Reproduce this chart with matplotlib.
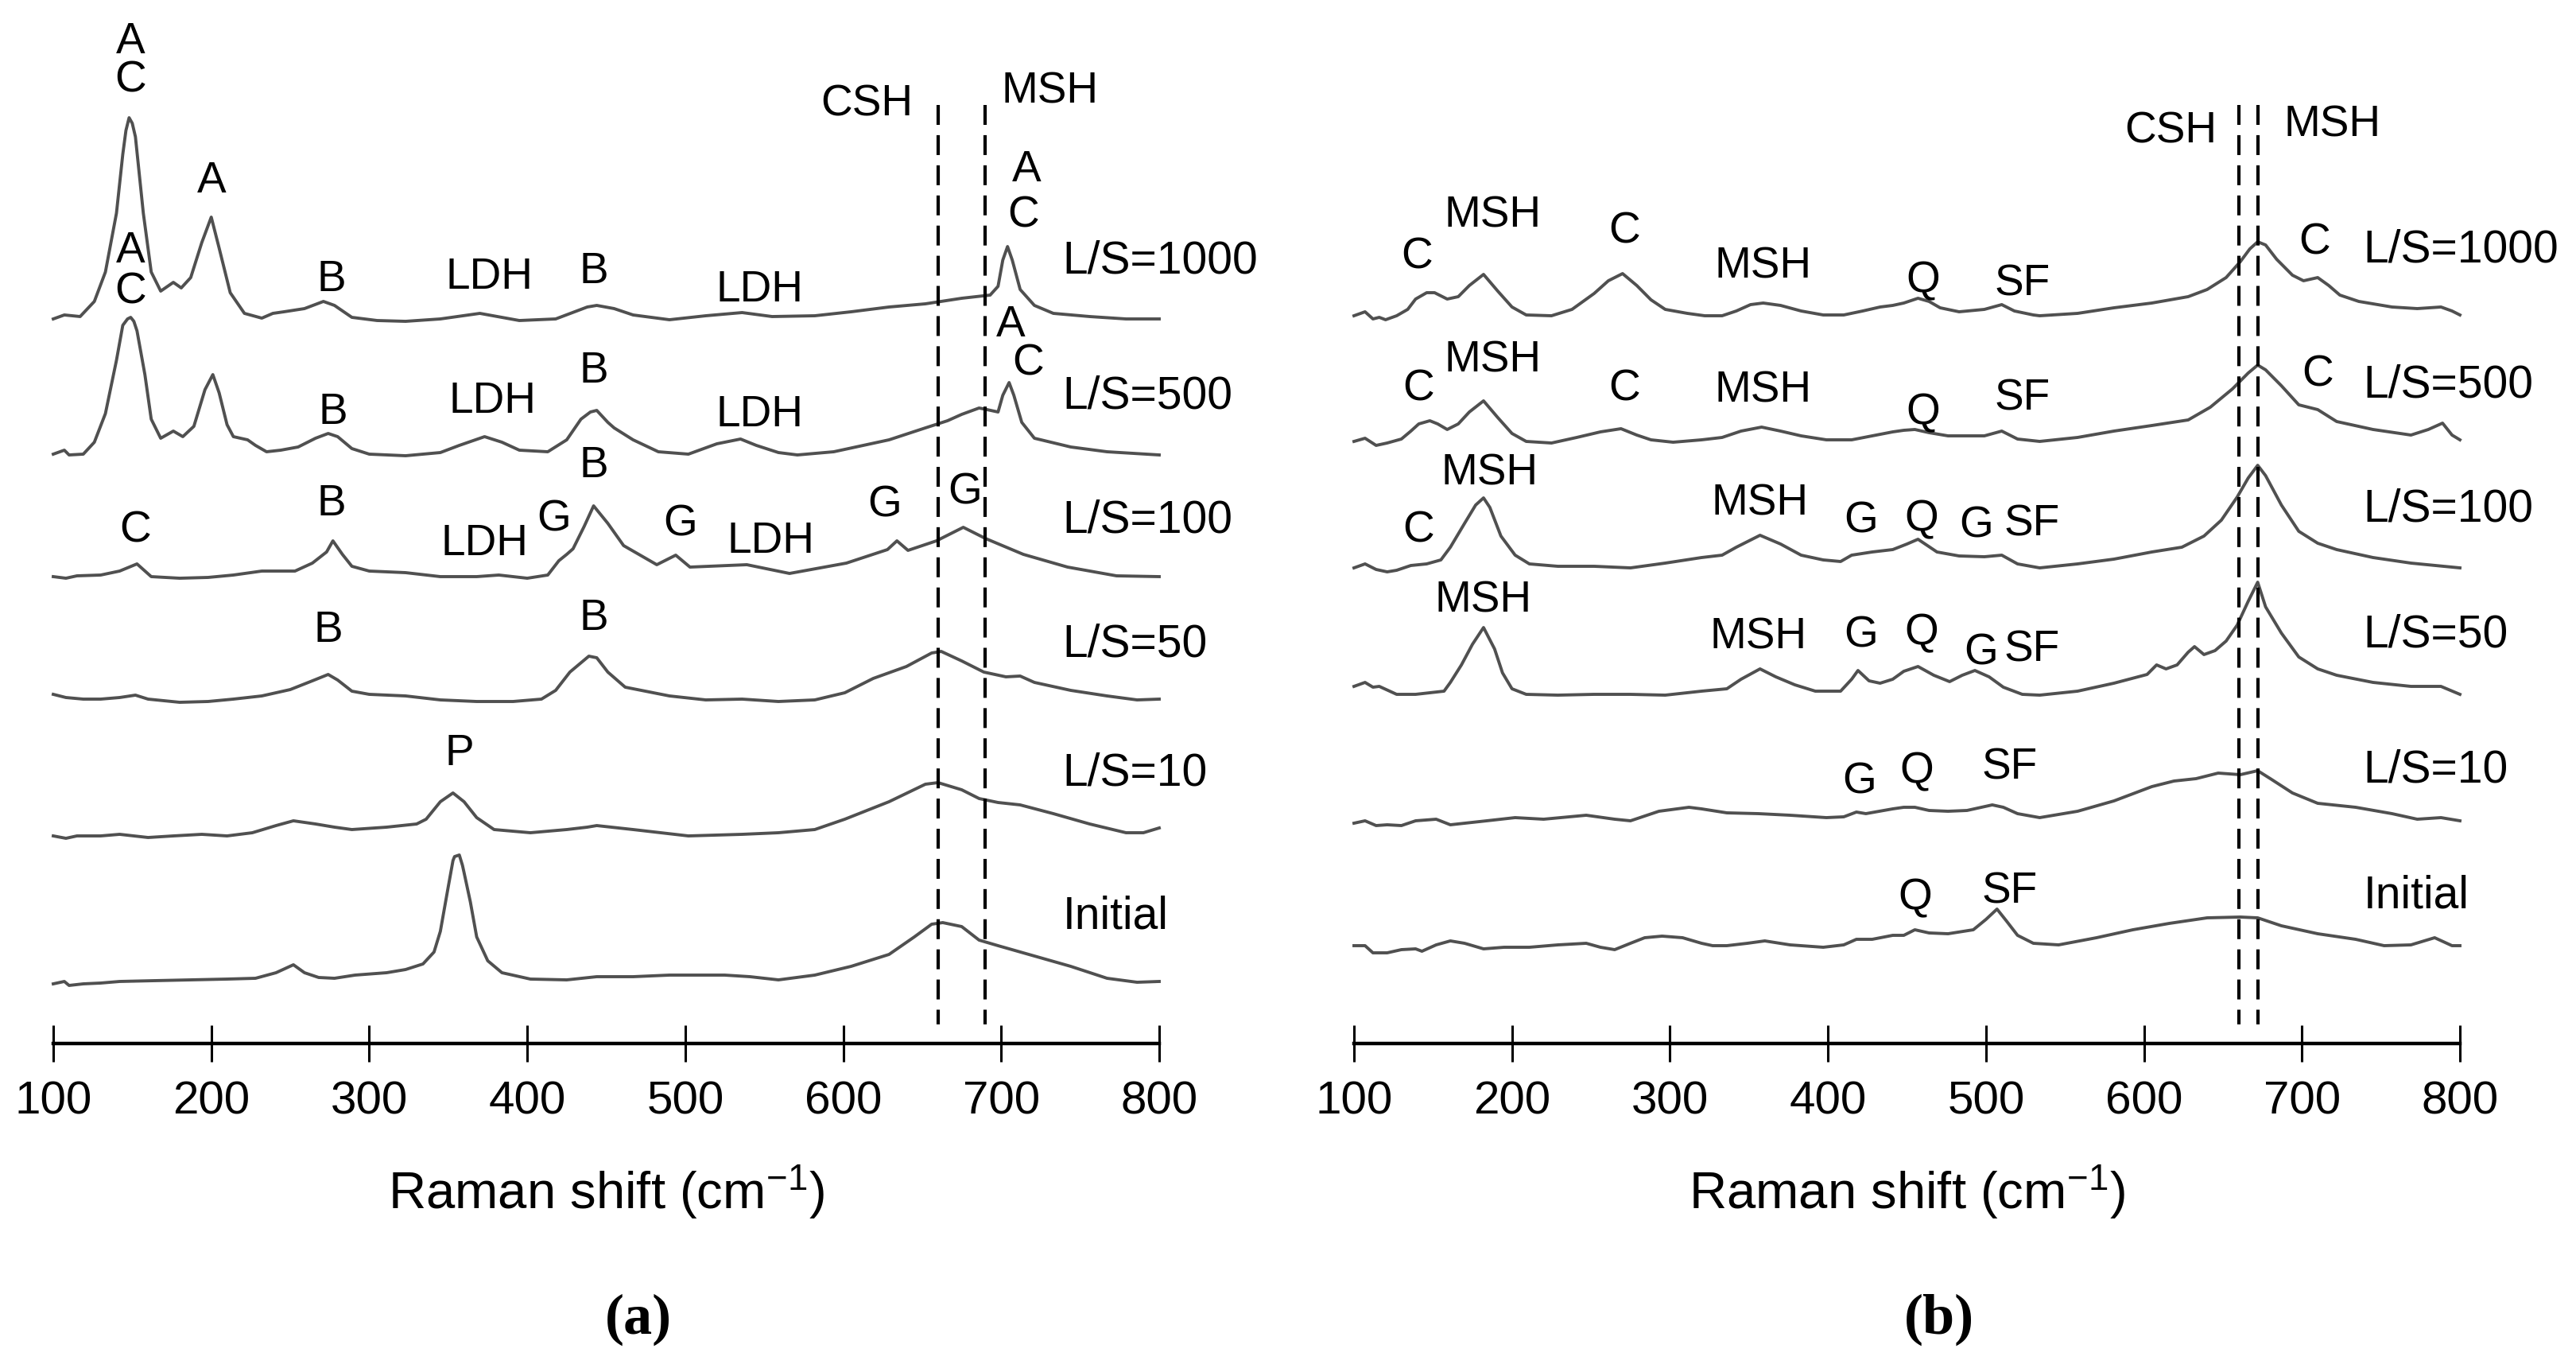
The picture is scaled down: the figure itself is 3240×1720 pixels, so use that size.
import numpy as np
import matplotlib
matplotlib.use('Agg')
import matplotlib.pyplot as plt

plt.rcParams['font.family'] = ['Liberation Sans', 'DejaVu Sans']
plt.rcParams['mathtext.fontset'] = 'custom'
plt.rcParams['mathtext.rm'] = 'Liberation Sans'
plt.rcParams['mathtext.it'] = 'Liberation Sans:italic'
plt.rcParams['mathtext.default'] = 'regular'

# ---- data: Raman shift (cm-1) and intensity (a.u.) ----
samples = ['L/S=1000', 'L/S=500', 'L/S=100', 'L/S=50', 'L/S=10', 'Initial']

# panel (a)
a1000_x = [100, 107, 117, 126, 133, 140, 144, 146, 148, 150, 152, 157, 162, 168, 176, 181, 187, 194, 200, 205,
           212, 221, 232, 239, 246, 259, 271, 278, 289, 305, 323, 345, 370, 395, 418, 438, 444, 455, 467, 490,
           513, 536, 555, 582, 605, 629, 652, 675, 693, 698, 701, 704, 707, 712, 721, 733, 756, 779, 800]
a1000_y = [3, 8, 6, 25, 62, 136, 210, 240, 256, 249, 232, 136, 62, 38, 49, 42, 55, 99, 131, 92,
           36, 10, 4, 10, 12, 16, 25, 20, 5, 1, 0, 3, 10, 1, 3, 18, 20, 16, 8, 2,
           7, 11, 6, 7, 12, 18, 22, 29, 33, 44, 77, 94, 77, 40, 20, 10, 6, 3, 3]
a500_x = [100, 107, 110, 119, 126, 133, 140, 144, 147, 149, 151, 153, 158, 162, 168, 176, 182, 189, 196, 201,
          205, 210, 214, 223, 228, 235, 244, 255, 266, 274, 280, 289, 300, 323, 345, 357, 373, 384, 395, 413,
          425, 434, 440, 444, 451, 455, 467, 483, 502, 520, 535, 545, 559, 571, 594, 629, 652, 666, 675, 686,
          691, 698, 701, 705, 708, 713, 721, 744, 767, 800]
a500_y = [2, 7, 1, 2, 17, 53, 120, 164, 172, 174, 169, 157, 102, 46, 22, 31, 24, 37, 83, 102,
          79, 39, 24, 20, 13, 5, 7, 11, 22, 28, 24, 9, 2, 0, 4, 13, 24, 17, 7, 5,
          20, 46, 55, 57, 42, 35, 20, 5, 2, 15, 21, 13, 4, 1, 5, 20, 35, 44, 52, 60,
          58, 55, 76, 92, 76, 42, 22, 11, 5, 1]
a100_x = [100, 108, 115, 130, 142, 153, 162, 180, 198, 214, 232, 253, 264, 273, 277, 283, 289, 300, 323, 345,
          368, 382, 400, 413, 420, 425, 429, 436, 442, 451, 461, 482, 494, 503, 539, 566, 602, 628, 634, 641,
          659, 676, 690, 714, 742, 773, 800]
a100_y = [2, 0, 3, 4, 9, 18, 2, 0, 1, 4, 9, 9, 19, 33, 47, 30, 15, 9, 7, 2,
          2, 4, 0, 4, 22, 30, 37, 65, 91, 69, 41, 17, 29, 14, 17, 6, 19, 36, 47, 35,
          47, 64, 50, 30, 14, 3, 2]
a50_x = [100, 108, 119, 130, 142, 152, 160, 180, 198, 214, 232, 250, 264, 274, 280, 289, 300, 323, 345, 368,
         391, 409, 418, 427, 439, 444, 451, 462, 490, 513, 536, 559, 582, 601, 619, 640, 656, 662, 675, 689,
         703, 712, 721, 744, 767, 786, 800]
a50_y = [10, 6, 4, 4, 6, 9, 4, 0, 1, 4, 8, 16, 27, 35, 28, 14, 10, 8, 3, 1,
         1, 4, 15, 38, 58, 56, 38, 19, 8, 3, 4, 1, 3, 12, 30, 45, 62, 64, 52, 38,
         32, 33, 25, 15, 8, 3, 4]
a10_x = [100, 108, 115, 130, 142, 160, 176, 194, 210, 226, 241, 252, 266, 278, 289, 311, 330, 336, 345, 353,
         360, 368, 379, 402, 425, 438, 444, 467, 502, 536, 559, 582, 601, 629, 652, 660, 675, 686, 698, 712,
         733, 756, 779, 790, 800]
a10_y = [3, 0, 3, 3, 5, 1, 3, 5, 3, 7, 16, 22, 18, 14, 11, 14, 18, 24, 46, 57,
         46, 26, 11, 7, 11, 14, 16, 11, 3, 5, 7, 11, 24, 46, 68, 70, 61, 50, 45, 42,
         31, 18, 7, 7, 13]
a0_x = [100, 107, 110, 119, 130, 142, 164, 187, 210, 228, 241, 252, 259, 268, 278, 291, 311, 323, 334, 341,
        345, 350, 353, 354, 357, 359, 360, 364, 368, 375, 384, 402, 425, 444, 467, 490, 525, 541, 559, 582,
        605, 629, 645, 656, 663, 675, 686, 698, 721, 744, 767, 786, 800]
a0_y = [3, 6, 1, 3, 4, 6, 7, 8, 9, 10, 17, 27, 17, 11, 10, 14, 17, 21, 28, 43,
        69, 125, 158, 163, 165, 152, 143, 106, 62, 32, 17, 9, 8, 12, 12, 14, 14, 12, 8, 14,
        25, 40, 62, 78, 80, 75, 58, 51, 38, 25, 10, 5, 6]

# panel (b)
b1000_x = [100, 107, 112, 116, 120, 127, 134, 139, 146, 151, 159, 166, 173, 182, 191, 200, 209, 225, 238, 252,
           261, 270, 279, 288, 297, 311, 322, 333, 342, 351, 359, 370, 383, 397, 410, 422, 433, 441, 448, 457,
           464, 471, 483, 499, 510, 518, 530, 534, 558, 581, 605, 628, 640, 652, 661, 667, 672, 677, 684, 694,
           701, 710, 717, 724, 736, 757, 773, 788, 795, 800]
b1000_y = [6, 11, 2, 4, 1, 6, 14, 27, 35, 35, 27, 30, 44, 58, 37, 17, 7, 6, 14, 34,
           50, 59, 44, 26, 14, 9, 6, 6, 12, 20, 22, 19, 12, 7, 7, 12, 17, 19, 22, 28,
           24, 16, 11, 14, 20, 12, 7, 6, 9, 16, 22, 30, 39, 54, 74, 90, 99, 95, 77, 57,
           50, 54, 44, 32, 24, 17, 15, 17, 12, 7]
b500_x = [100, 107, 114, 121, 130, 136, 141, 148, 153, 159, 166, 173, 182, 191, 200, 209, 225, 241, 256, 269,
          279, 288, 302, 320, 333, 345, 358, 370, 383, 399, 415, 428, 441, 448, 455, 464, 476, 499, 510, 520,
          534, 558, 581, 605, 628, 642, 656, 666, 672, 677, 687, 698, 710, 722, 745, 769, 780, 789, 795, 800]
b500_y = [5, 9, 0, 3, 8, 18, 27, 31, 27, 20, 27, 42, 56, 35, 15, 5, 3, 10, 17, 21,
          13, 7, 4, 7, 10, 18, 23, 18, 12, 7, 7, 12, 17, 19, 20, 16, 12, 12, 18, 8,
          5, 10, 18, 25, 32, 48, 71, 91, 101, 95, 75, 51, 45, 30, 20, 13, 20, 28, 13, 7]
b100_x = [100, 107, 114, 121, 127, 136, 146, 155, 161, 170, 177, 182, 186, 193, 202, 211, 229, 252, 275, 297,
          320, 333, 342, 357, 370, 383, 397, 408, 415, 428, 441, 450, 457, 469, 483, 499, 510, 520, 534, 558,
          581, 605, 624, 638, 649, 659, 666, 672, 677, 687, 698, 710, 722, 745, 769, 800]
b100_y = [5, 10, 3, 0, 2, 8, 10, 15, 31, 61, 84, 93, 81, 45, 21, 10, 7, 7, 5, 11,
          18, 21, 31, 46, 35, 21, 15, 13, 21, 25, 28, 35, 41, 25, 20, 19, 21, 10, 5, 10,
          16, 25, 31, 45, 65, 94, 118, 134, 121, 84, 51, 36, 28, 18, 11, 5]
b50_x = [100, 107, 112, 116, 127, 139, 157, 161, 168, 175, 182, 189, 194, 200, 209, 229, 252, 275, 297, 320,
         336, 345, 357, 367, 379, 392, 408, 415, 419, 426, 433, 441, 448, 457, 467, 477, 485, 493, 502, 511,
         523, 534, 558, 581, 602, 608, 614, 621, 628, 632, 638, 645, 652, 659, 666, 672, 677, 687, 698, 710,
         722, 745, 769, 788, 800]
b50_y = [12, 17, 11, 12, 2, 2, 6, 17, 39, 65, 86, 59, 29, 9, 2, 1, 2, 2, 1, 6,
         9, 21, 34, 24, 14, 6, 6, 21, 32, 19, 16, 21, 31, 37, 26, 18, 26, 32, 24, 11,
         2, 1, 6, 16, 27, 39, 34, 39, 55, 62, 52, 57, 69, 89, 119, 143, 112, 79, 49, 34,
         26, 17, 12, 12, 2]
b10_x = [100, 107, 114, 121, 130, 139, 152, 161, 184, 202, 220, 247, 265, 275, 281, 293, 312, 320, 336, 356,
         376, 399, 410, 418, 424, 441, 448, 455, 464, 476, 488, 504, 511, 520, 534, 558, 581, 605, 619, 633,
         647, 661, 672, 680, 694, 710, 734, 757, 773, 788, 800]
b10_y = [4, 7, 1, 2, 1, 7, 9, 2, 7, 11, 9, 14, 9, 7, 11, 19, 24, 22, 17, 16,
         14, 11, 12, 18, 16, 22, 24, 24, 20, 19, 20, 27, 24, 16, 11, 19, 32, 50, 57, 60,
         67, 65, 70, 60, 42, 29, 24, 16, 9, 11, 7]
b0_x = [100, 107, 112, 121, 130, 139, 143, 152, 161, 170, 182, 195, 211, 229, 247, 256, 265, 275, 284, 295,
        308, 320, 327, 336, 349, 360, 376, 397, 410, 418, 428, 441, 448, 455, 464, 476, 492, 500, 507, 513,
        520, 530, 546, 570, 593, 616, 640, 661, 672, 687, 710, 734, 752, 769, 784, 795, 800]
b0_y = [9, 9, 0, 0, 4, 5, 2, 10, 15, 12, 5, 7, 7, 10, 12, 7, 4, 12, 19, 21,
        19, 12, 9, 9, 12, 15, 10, 7, 10, 17, 17, 22, 22, 29, 25, 24, 29, 42, 55, 40,
        22, 12, 10, 19, 29, 37, 44, 45, 44, 34, 24, 17, 9, 10, 19, 9, 9]

# reference bands (CSH, MSH) in cm-1
bands_a = [660, 690]
bands_b = [660, 672]

# stacking offsets of the spectra (a.u.)
offsets_a = [908, 739, 585, 429, 258, 72]
offsets_b = [909, 752, 593, 437, 273, 114]

spectra_a = [(a1000_x, a1000_y), (a500_x, a500_y), (a100_x, a100_y),
             (a50_x, a50_y), (a10_x, a10_y), (a0_x, a0_y)]
spectra_b = [(b1000_x, b1000_y), (b500_x, b500_y), (b100_x, b100_y),
             (b50_x, b50_y), (b10_x, b10_y), (b0_x, b0_y)]

# peak labels: text, shift, height
peaks_a = [('A', 149, 1245), ('C', 149, 1196), ('A', 200, 1070),
           ('A', 149, 982), ('C', 149, 930), ('B', 276, 946), ('LDH', 376, 949), ('B', 442, 956),
           ('LDH', 547, 933), ('CSH', 615, 1167), ('MSH', 731, 1182), ('A', 716, 1084), ('C', 714, 1026),
           ('B', 277, 779), ('LDH', 378, 793), ('B', 442, 831), ('LDH', 547, 776), ('A', 706, 889),
           ('C', 717, 840),
           ('C', 152, 631), ('B', 276, 664), ('LDH', 373, 614), ('G', 417, 645), ('B', 442, 712),
           ('G', 497, 639), ('LDH', 554, 617), ('G', 626, 662), ('G', 677, 678),
           ('B', 274, 505), ('B', 442, 520), ('P', 357, 350)]
peaks_b = [('CSH', 617, 1133), ('MSH', 719, 1140),
           ('C', 140, 974), ('MSH', 188, 1026), ('C', 271, 1007), ('MSH', 359, 963), ('Q', 460, 945),
           ('SF', 523, 941), ('C', 708, 993),
           ('C', 141, 809), ('MSH', 188, 845), ('C', 271, 809), ('MSH', 359, 806), ('Q', 460, 779),
           ('SF', 523, 796), ('C', 710, 826),
           ('C', 141, 631), ('MSH', 186, 702), ('MSH', 357, 664), ('G', 421, 642), ('Q', 459, 645),
           ('G', 494, 636), ('SF', 529, 639),
           ('MSH', 182, 543), ('MSH', 356, 497), ('G', 421, 499), ('Q', 459, 502), ('G', 497, 477),
           ('SF', 529, 480),
           ('G', 420, 314), ('Q', 456, 328), ('SF', 515, 332),
           ('Q', 455, 169), ('SF', 515, 177)]
name_h_a = [968, 798, 642, 486, 325, 144]
name_h_b = [982, 812, 656, 499, 328, 171]

W, H = 3241, 1720
fig = plt.figure(figsize=(W / 200, H / 200), dpi=200)


def panel(x0, x1, spectra, offsets, bands, peaks, name_h):
    ax = fig.add_axes([x0 / W, (H - 1312) / H, (x1 - x0) / W, 1312 / H])
    ax.patch.set_visible(False)
    for (x, y), off in zip(spectra, offsets):
        ax.plot(x, off + np.array(y), color='#505050', lw=1.4, solid_joinstyle='round', clip_on=False)
    for b in bands:
        ax.plot([b, b], [1180, 24], color='black', lw=1.5, linestyle=(0, (6, 3.1)), clip_on=False)
    for s, x, h in peaks:
        ax.text(x, h, s, ha='center', va='baseline', fontsize=19.8, clip_on=False)
    for s, h in zip(samples, name_h):
        ax.text(739, h, s, ha='left', va='baseline', fontsize=20.5, clip_on=False)
    ax.set_xlim(100, 800)
    ax.set_ylim(0, 1312)
    for side in ['top', 'left', 'right']:
        ax.spines[side].set_visible(False)
    ax.spines['bottom'].set_linewidth(1.6)
    ax.set_yticks([])
    ax.set_xticks(range(100, 801, 100))
    ax.tick_params(axis='x', direction='inout', length=16.6, width=1.1, pad=8.3, labelsize=21)
    xc = (x0 + x1) / 2
    fig.text(xc / W, (H - 1521) / H, 'Raman shift (cm$^{-1}$)', ha='center', va='baseline', fontsize=23.5)
    return ax


panel(67, 1458, spectra_a, offsets_a, bands_a, peaks_a, name_h_a)
panel(1703, 3094, spectra_b, offsets_b, bands_b, peaks_b, name_h_b)

fig.text(803 / W, (H - 1677) / H, '(a)', family='Liberation Serif', weight='bold',
         fontsize=26, ha='center', va='baseline')
fig.text(2439 / W, (H - 1677) / H, '(b)', family='Liberation Serif', weight='bold',
         fontsize=26, ha='center', va='baseline')

fig.savefig('out.png', dpi=200)
